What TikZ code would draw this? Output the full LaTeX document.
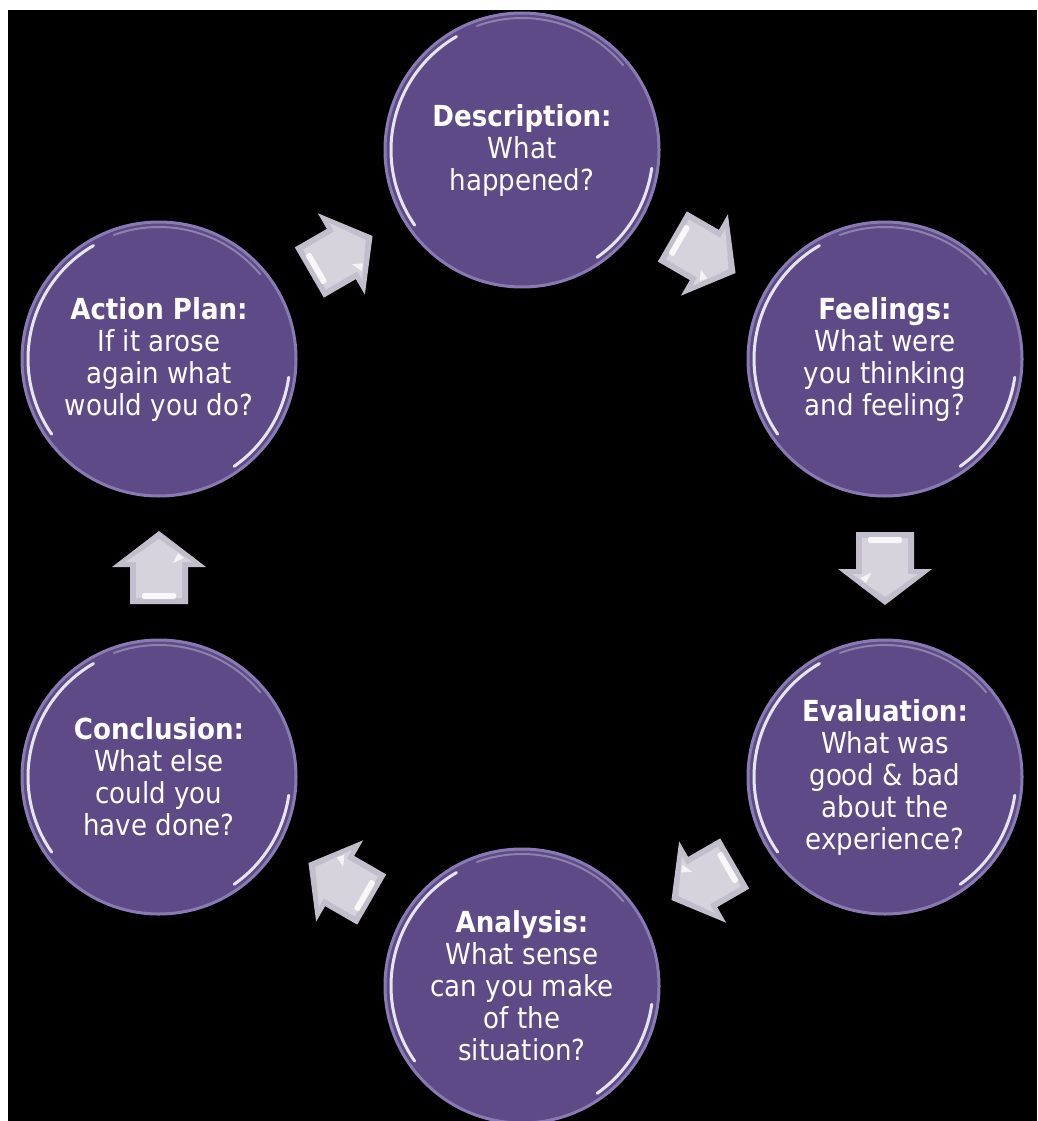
\documentclass[tikz,border=0pt]{standalone}
\usepackage{fontspec}
\setmainfont{DejaVu Sans Condensed}
\usetikzlibrary{calc}
\definecolor{circfill}{HTML}{5D4A87}
\definecolor{circrim}{HTML}{8A7AB3}
\definecolor{arrowdark}{HTML}{C2BECB}
\definecolor{arrowlight}{HTML}{D6D3DD}
\tikzset{
  stage/.style={circle, minimum size=274pt, inner sep=0pt, fill=circfill,
    draw=circrim, line width=3pt, text=white, align=center,
    font=\fontsize{29}{32}\selectfont},
  hl/.style={white, opacity=0.85, line width=3pt, line cap=round},
  hlsoft/.style={white, opacity=0.3, line width=2pt, line cap=round},
  blockarrow/.pic={
    \fill[arrowdark] (-36,-29) -- (1,-29) -- (1,-47) -- (37,0) -- (1,47) -- (1,29) -- (-36,29) -- cycle;
    \fill[arrowlight] (-30,-23) -- (6,-23) -- (6,-33) -- (29,0) -- (6,33) -- (6,23) -- (-30,23) -- cycle;
    \fill[white, opacity=0.85, rounded corners=2pt] (-31,-17) rectangle (-25,17);
    \fill[white, opacity=0.75] (5,14) -- (15,19) -- (10,25) -- cycle;
  }
}
\begin{document}
\begin{tikzpicture}[x=1pt, y=-1pt]
\useasboundingbox (0,0) rectangle (1037,1121);
\fill[white] (0,0) rectangle (1037,1121);
\fill[black] (8,10) rectangle (1037,1121);

\node[stage] (desc) at (522,150) {\textbf{Description:}\\What\\happened?};
\node[stage] (feel) at (885,359) {\textbf{Feelings:}\\What were\\you thinking\\and feeling?};
\node[stage] (eval) at (885,777) {\textbf{Evaluation:}\\What was\\good \& bad\\about the\\experience?};
\node[stage] (anal) at (522,986) {\textbf{Analysis:}\\What sense\\can you make\\of the\\situation?};
\node[stage] (conc) at (159,777) {\textbf{Conclusion:}\\What else\\could you\\have done?};
\node[stage] (act)  at (159,359) {\textbf{Action Plan:}\\If it arose\\again what\\would you do?};

\foreach \n in {desc,feel,eval,anal,conc,act}{
  \draw[hlsoft] ($(\n)+(-40:132)$) arc[start angle=-40, end angle=-110, radius=132];
  \draw[hl] ($(\n)+(-120:131)$) arc[start angle=-120, end angle=-215, radius=131];
  \draw[hl] ($(\n)+(8:131)$) arc[start angle=8, end angle=55, radius=131];
}

\pic[rotate=30]   at ($(act)!0.5!(desc)$) {blockarrow};
\pic[rotate=-30]  at ($(desc)!0.5!(feel)$) {blockarrow};
\pic[rotate=-90]  at ($(feel)!0.5!(eval)$) {blockarrow};
\pic[rotate=-150] at ($(eval)!0.5!(anal)$) {blockarrow};
\pic[rotate=150]  at ($(anal)!0.5!(conc)$) {blockarrow};
\pic[rotate=90]   at ($(conc)!0.5!(act)$) {blockarrow};
\end{tikzpicture}
\end{document}
